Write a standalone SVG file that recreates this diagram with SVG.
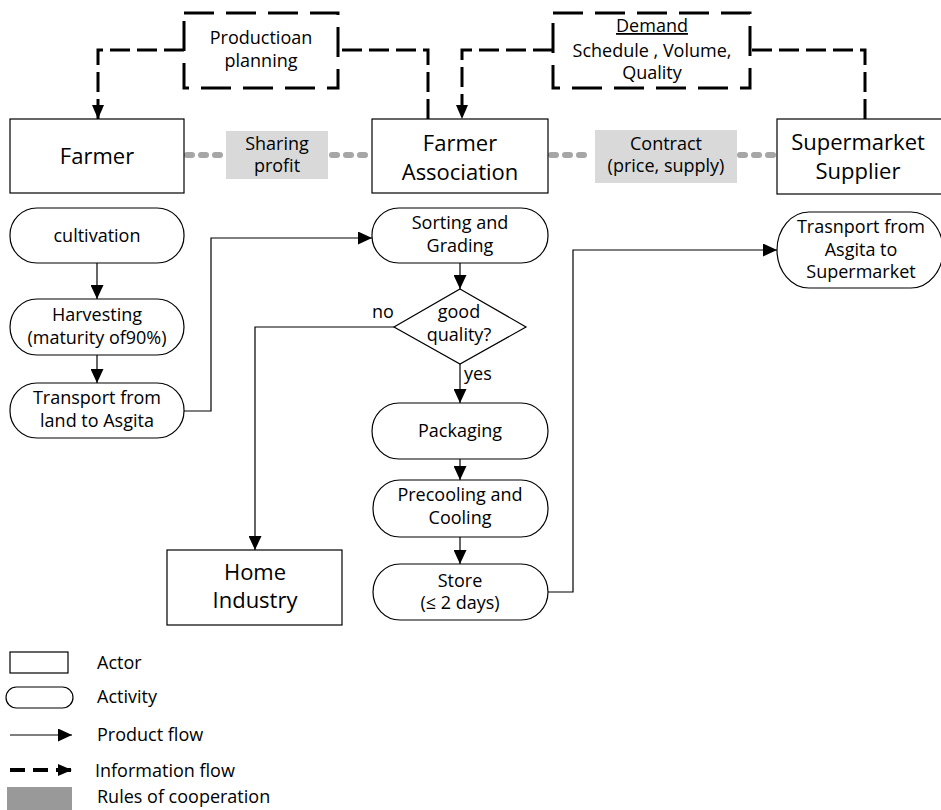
<svg xmlns="http://www.w3.org/2000/svg" width="941" height="810" viewBox="0 0 941 810">
<defs>
<style>
text{font-family:"Open Sans","Noto Sans","Liberation Sans",sans-serif;fill:#000;text-anchor:middle;font-size:18px}
.actor{fill:#fff;stroke:#000;stroke-width:1.2}
.act{fill:#fff;stroke:#000;stroke-width:1.2}
.big{font-size:22px}
.rule{fill:#d9d9d9;stroke:none}
.dots{fill:none;stroke:#a6a6a6;stroke-width:6;stroke-linecap:round;stroke-dasharray:5 9}
.info{fill:none;stroke:#000;stroke-width:3;stroke-dasharray:20 7}
.ibox{fill:none;stroke:#000;stroke-width:3;stroke-dasharray:30 12}
.prod{fill:none;stroke:#000;stroke-width:1.2}
.lt{text-anchor:start}
</style>
<marker id="pa" markerUnits="userSpaceOnUse" markerWidth="14" markerHeight="13" refX="14" refY="6.5" orient="auto">
<path d="M0,0 L14,6.5 L0,13 Z" fill="#000"/>
</marker>
<marker id="ia" markerUnits="userSpaceOnUse" markerWidth="14" markerHeight="12" refX="14" refY="6" orient="auto">
<path d="M0,0 L14,6 L0,12 Z" fill="#000"/>
</marker>
</defs>
<rect width="941" height="810" fill="#fff"/>

<g id="connectors">
<path class="info" d="M428,119 V50 H338"/>
<path class="info" d="M184,50 H98 V119" marker-end="url(#ia)"/>
<path class="info" d="M865,119 V50 H750"/>
<path class="info" d="M553,50 H462 V119" marker-end="url(#ia)"/>
<path class="dots" d="M187,155 H224"/>
<path class="dots" d="M332,155 H370"/>
<path class="dots" d="M551,155 H593"/>
<path class="dots" d="M740,155 H775"/>
<path class="prod" d="M97,263 V299" marker-end="url(#pa)"/>
<path class="prod" d="M97,355 V383" marker-end="url(#pa)"/>
<path class="prod" d="M184,411 H211 V238 H372" marker-end="url(#pa)"/>
<path class="prod" d="M460,263 V289" marker-end="url(#pa)"/>
<path class="prod" d="M394,327 H255 V550" marker-end="url(#pa)"/>
<path class="prod" d="M460,364 V403" marker-end="url(#pa)"/>
<path class="prod" d="M460,459 V480" marker-end="url(#pa)"/>
<path class="prod" d="M460,537 V564" marker-end="url(#pa)"/>
<path class="prod" d="M548,592 H573 V250 H777" marker-end="url(#pa)"/>
<text x="383" y="318">no</text>
<text class="lt" x="464" y="380">yes</text>
</g>

<g id="production-planning">
<rect class="ibox" x="184" y="13" width="154" height="75"/>
<text x="261" y="44">Productioan</text>
<text x="261" y="67">planning</text>
</g>
<g id="demand">
<rect class="ibox" x="553" y="13" width="197" height="75"/>
<text x="652" y="32" text-decoration="underline">Demand</text>
<text x="652" y="57">Schedule , Volume,</text>
<text x="652" y="79">Quality</text>
</g>

<g id="farmer">
<rect class="actor" x="10" y="119" width="174" height="74"/>
<text class="big" x="97" y="164">Farmer</text>
</g>
<g id="sharing-profit">
<rect class="rule" x="226" y="131" width="102" height="48"/>
<text x="277" y="150">Sharing</text>
<text x="277" y="172">profit</text>
</g>
<g id="farmer-association">
<rect class="actor" x="372" y="119" width="176" height="74"/>
<text class="big" x="460" y="151">Farmer</text>
<text class="big" x="460" y="180">Association</text>
</g>
<g id="contract">
<rect class="rule" x="595" y="130" width="142" height="53"/>
<text x="666" y="150">Contract</text>
<text x="666" y="172">(price, supply)</text>
</g>
<g id="supermarket-supplier">
<rect class="actor" x="777" y="119" width="166" height="75"/>
<text class="big" x="858" y="150">Supermarket</text>
<text class="big" x="858" y="179">Supplier</text>
</g>

<g id="cultivation">
<rect class="act" x="10" y="208" width="174" height="55" rx="27" ry="27"/>
<text x="97" y="242">cultivation</text>
</g>
<g id="harvesting">
<rect class="act" x="10" y="299" width="174" height="56" rx="27" ry="28"/>
<text x="97" y="321">Harvesting</text>
<text x="97" y="344">(maturity of90%)</text>
</g>
<g id="transport-land">
<rect class="act" x="10" y="383" width="174" height="55" rx="27" ry="27"/>
<text x="97" y="404">Transport from</text>
<text x="97" y="427">land to Asgita</text>
</g>
<g id="sorting">
<rect class="act" x="372" y="208" width="176" height="55" rx="27" ry="27"/>
<text x="460" y="229">Sorting and</text>
<text x="460" y="252">Grading</text>
</g>
<g id="good-quality">
<polygon class="act" points="460,289 526,327 460,364 394,327"/>
<text x="459" y="318">good</text>
<text x="459" y="341">quality?</text>
</g>
<g id="packaging">
<rect class="act" x="372" y="403" width="176" height="56" rx="27" ry="28"/>
<text x="460" y="437">Packaging</text>
</g>
<g id="precooling">
<rect class="act" x="373" y="480" width="175" height="57" rx="27" ry="28"/>
<text x="460" y="501">Precooling and</text>
<text x="460" y="524">Cooling</text>
</g>
<g id="store">
<rect class="act" x="373" y="564" width="175" height="56" rx="27" ry="28"/>
<text x="460" y="587">Store</text>
<text x="460" y="609">(≤ 2 days)</text>
</g>
<g id="transport-supermarket">
<rect class="act" x="777" y="212" width="166" height="76" rx="32" ry="38"/>
<text x="861" y="233">Trasnport from</text>
<text x="861" y="256">Asgita to</text>
<text x="861" y="278">Supermarket</text>
</g>
<g id="home-industry">
<rect class="actor" x="167" y="550" width="175" height="75"/>
<text class="big" x="255" y="580">Home</text>
<text class="big" x="255" y="608">Industry</text>
</g>

<g id="legend">
<rect class="actor" x="10" y="652" width="58" height="21"/>
<text class="lt" x="97" y="669">Actor</text>
<rect class="act" x="6" y="687" width="67" height="21" rx="10.5" ry="10.5"/>
<text class="lt" x="97" y="703">Activity</text>
<path class="prod" d="M10,735 H72" marker-end="url(#pa)"/>
<text class="lt" x="97" y="741">Product flow</text>
<path d="M10,770 H72" fill="none" stroke="#000" stroke-width="4" stroke-dasharray="15 8" marker-end="url(#ia)"/>
<text class="lt" x="95" y="777">Information flow</text>
<rect x="7" y="787" width="65" height="23" fill="#999"/>
<text class="lt" x="97" y="803">Rules of cooperation</text>
</g>
</svg>
